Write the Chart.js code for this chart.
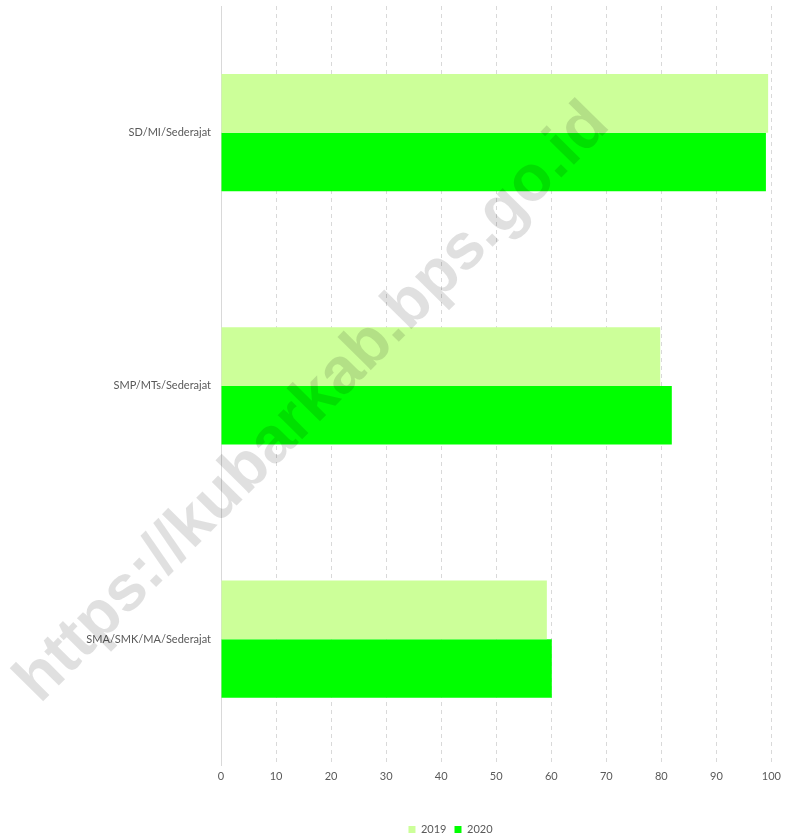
<!DOCTYPE html>
<html>
<head>
<meta charset="utf-8">
<script src="https://cdn.jsdelivr.net/npm/chart.js@4.4.0/dist/chart.umd.min.js"></script>
<style>
  html, body { margin: 0; padding: 0; background: #ffffff; }
  #wrap { width: 785px; height: 837px; position: relative; }
</style>
</head>
<body>
<div id="wrap"><canvas id="c" width="785" height="837"></canvas></div>
<script>
const categories = ["SD/MI/Sederajat", "SMP/MTs/Sederajat", "SMA/SMK/MA/Sederajat"];
const series2019 = [99.4, 79.8, 59.2];
const series2020 = [99.0, 81.9, 60.1];
const seriesNames = ["2019", "2020"];
const xTicks = [0, 10, 20, 30, 40, 50, 60, 70, 80, 90, 100];
const watermarkText = "https://kubarkab.bps.go.id";

const watermark = {
  id: 'watermark',
  afterDraw(chart) {
    const ctx = chart.ctx;
    ctx.save();
    ctx.font = 'bold 65px "Liberation Sans", Arial, sans-serif';
    ctx.fillStyle = 'rgba(0,0,0,0.12)';
    ctx.textAlign = 'center';
    ctx.textBaseline = 'middle';
    ctx.translate(313, 403);
    ctx.rotate(-45.3 * Math.PI / 180);
    ctx.fillText(watermarkText, 0, 0);
    ctx.restore();
  }
};

const shiftLegend = {
  id: 'shiftLegend',
  afterLayout(chart) {
    const lg = chart.legend;
    if (lg) { lg.left += 63; lg.right += 63; lg.top += 10; lg.bottom += 10; }
  }
};

new Chart(document.getElementById('c'), {
  type: 'bar',
  data: {
    labels: categories,
    datasets: [
      { label: seriesNames[0], data: series2019, backgroundColor: '#CCFF99', borderWidth: 0 },
      { label: seriesNames[1], data: series2020, backgroundColor: '#00FF00', borderWidth: 0 }
    ]
  },
  options: {
    indexAxis: 'y',
    responsive: false,
    animation: false,
    layout: { padding: { top: 6, right: 10, left: 0, bottom: 2 } },
    datasets: { bar: { categoryPercentage: 0.4625, barPercentage: 1.0 } },
    plugins: {
      legend: {
        position: 'bottom',
        labels: {
          boxWidth: 7, boxHeight: 7, padding: 8,
          color: '#595959',
          font: { family: 'Lato, "Open Sans", sans-serif', size: 11 }
        }
      },
      tooltip: { enabled: false }
    },
    scales: {
      x: {
        min: 0, max: 100,
        afterBuildTicks(scale) { scale.ticks = xTicks.map(v => ({ value: v })); },
        afterFit(scale) { scale.height += 19; },
        grid: {
          color: '#d9d9d9', lineWidth: 1, drawTicks: false,
          tickBorderDash: [4, 4]
        },
        border: { display: false, dash: [4, 4] },
        ticks: {
          padding: 4, color: '#595959',
          font: { family: 'Lato, "Open Sans", sans-serif', size: 11 }
        }
      },
      y: {
        grid: { display: false, drawTicks: false },
        border: { display: true, color: '#d9d9d9', width: 1 },
        afterFit(scale) { scale.width = 221; scale.paddingTop = 0; scale.paddingBottom = 0; },
        ticks: {
          padding: 10, color: '#595959',
          font: { family: 'Lato, "Open Sans", sans-serif', size: 11 }
        }
      }
    }
  },
  plugins: [watermark, shiftLegend]
});
</script>
</body>
</html>
